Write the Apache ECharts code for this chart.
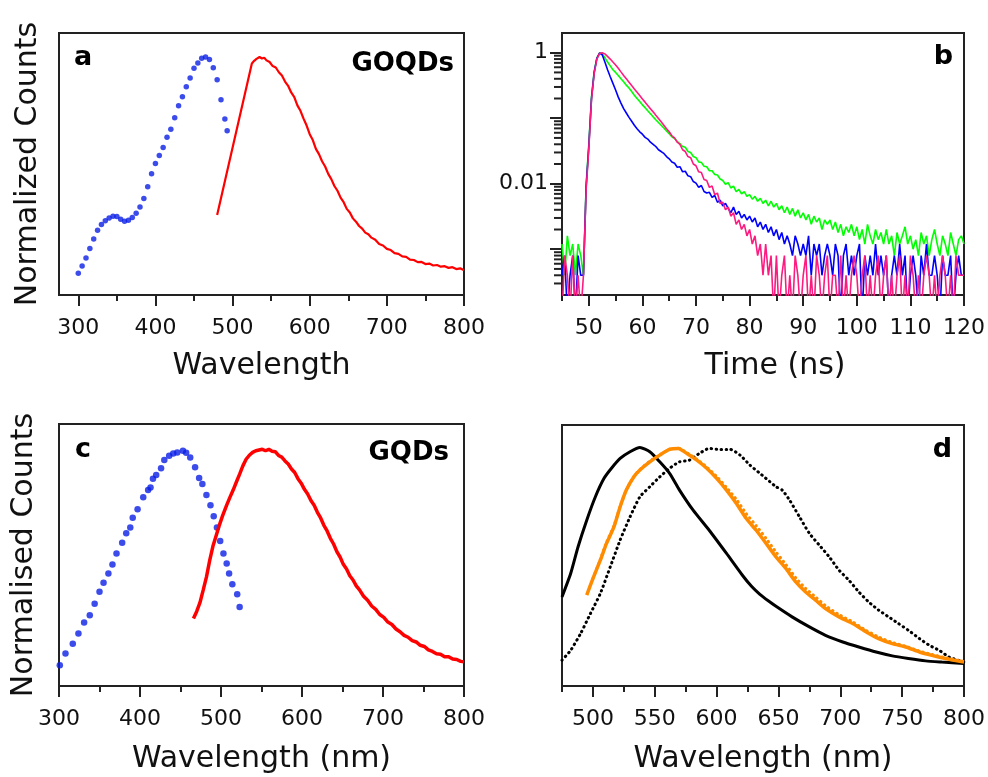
<!DOCTYPE html>
<html>
<head>
<meta charset="utf-8">
<script src="https://cdn.jsdelivr.net/npm/echarts@6/dist/echarts.min.js"></script>
<style>
    html, body { margin: 0; padding: 0; background: #fff; }
    #chart { width: 988px; height: 777px; }
</style>
</head>
<body>
<div id="chart"></div>
<script>
    // panel a: GOQDs excitation (dots) and emission (line)
    const aExcNm = [300, 305, 310, 315, 320, 325, 330, 335, 340, 345, 350, 355, 360, 365, 370, 375, 380, 385, 390, 395,
        400, 405, 410, 415, 420, 425, 430, 435, 440, 445, 450, 455, 460, 465, 470, 475, 480, 485, 490, 493]
    const aExcVal = [0.091, 0.122, 0.156, 0.195, 0.235, 0.272, 0.296, 0.312, 0.324, 0.331, 0.330, 0.318, 0.310, 0.314, 0.326, 0.344, 0.370, 0.405, 0.455, 0.510,
        0.553, 0.586, 0.620, 0.663, 0.697, 0.745, 0.795, 0.833, 0.875, 0.912, 0.953, 0.975, 0.995, 1.0, 0.99, 0.955, 0.905, 0.82, 0.74, 0.69]
    const aEmNm = [480, 525, 528, 531, 535, 538, 541, 544, 548, 552, 556, 560, 564, 568, 572, 576, 580, 584, 588, 592,
        596, 600, 604, 608, 612, 616, 620, 624, 628, 632, 636, 640, 644, 648, 652, 656, 660, 664, 668, 672,
        676, 680, 685, 690, 695, 700, 705, 710, 715, 720, 725, 730, 735, 740, 745, 750, 755, 760, 765, 770,
        775, 780, 785, 790, 795, 800]
    const aEmVal = [0.336, 0.973, 0.984, 0.992, 1.0, 0.994, 0.997, 0.986, 0.979, 0.962, 0.956, 0.936, 0.922, 0.897, 0.879, 0.851, 0.832, 0.797, 0.774, 0.741,
        0.712, 0.676, 0.651, 0.614, 0.592, 0.562, 0.540, 0.509, 0.487, 0.458, 0.438, 0.409, 0.390, 0.362, 0.347, 0.322, 0.308, 0.290, 0.279, 0.262,
        0.255, 0.241, 0.232, 0.214, 0.208, 0.194, 0.189, 0.176, 0.173, 0.162, 0.160, 0.149, 0.147, 0.138, 0.139, 0.130, 0.132, 0.124, 0.126, 0.119,
        0.121, 0.114, 0.117, 0.109, 0.112, 0.104]

    // panel b: decay curves (normalized counts, 0.0001 = zero counts, below the axis)
    const timeNs = [45, 45.5, 46, 46.5, 47, 47.5, 48, 48.5, 49, 49.5,
        50, 50.5, 51, 51.5, 52, 52.5, 53, 53.5, 54, 54.5,
        55, 55.5, 56, 56.5, 57, 57.5, 58, 58.5, 59, 59.5,
        60, 60.5, 61, 61.5, 62, 62.5, 63, 63.5, 64, 64.5,
        65, 65.5, 66, 66.5, 67, 67.5, 68, 68.5, 69, 69.5,
        70, 70.5, 71, 71.5, 72, 72.5, 73, 73.5, 74, 74.5,
        75, 75.5, 76, 76.5, 77, 77.5, 78, 78.5, 79, 79.5,
        80, 80.5, 81, 81.5, 82, 82.5, 83, 83.5, 84, 84.5,
        85, 85.5, 86, 86.5, 87, 87.5, 88, 88.5, 89, 89.5,
        90, 90.5, 91, 91.5, 92, 92.5, 93, 93.5, 94, 94.5,
        95, 95.5, 96, 96.5, 97, 97.5, 98, 98.5, 99, 99.5,
        100, 100.5, 101, 101.5, 102, 102.5, 103, 103.5, 104, 104.5,
        105, 105.5, 106, 106.5, 107, 107.5, 108, 108.5, 109, 109.5,
        110, 110.5, 111, 111.5, 112, 112.5, 113, 113.5, 114, 114.5,
        115, 115.5, 116, 116.5, 117, 117.5, 118, 118.5, 119, 119.5,
        120]
    const blueDecay = [0.0004, 0.0008, 0.0001, 0.0004, 0.0008, 0.0001, 0.0008, 0.0004, 0.0004, 0.009,
        0.037, 0.2, 0.5, 0.82, 0.99, 0.93, 0.72, 0.55, 0.43, 0.34,
        0.27, 0.21, 0.17, 0.14, 0.12, 0.103, 0.09, 0.078, 0.069, 0.062,
        0.057, 0.051, 0.048, 0.043, 0.04, 0.037, 0.033, 0.031, 0.029, 0.026,
        0.024, 0.0215, 0.0205, 0.0178, 0.0182, 0.0152, 0.0155, 0.0132, 0.0128, 0.0108,
        0.0102, 0.0088, 0.0094, 0.0076, 0.0072, 0.0074, 0.0062, 0.0066, 0.0052, 0.0056,
        0.0046, 0.005, 0.0042, 0.0036, 0.0044, 0.0034, 0.0038, 0.003, 0.0034, 0.0028,
        0.0032, 0.0026, 0.003, 0.0022, 0.0026, 0.002, 0.0024, 0.0018, 0.0022, 0.0016,
        0.002, 0.0014, 0.0018, 0.0012, 0.0016, 0.0012, 0.0008, 0.0016, 0.0012, 0.0008,
        0.0012, 0.0008, 0.0016, 0.0004, 0.0012, 0.0008, 0.0012, 0.0004, 0.0008, 0.0012,
        0.0008, 0.0004, 0.0012, 0.0008, 0.0001, 0.0008, 0.0012, 0.0004, 0.0008, 0.0004,
        0.0008, 0.0012, 0.0001, 0.0008, 0.0004, 0.0008, 0.0004, 0.0012, 0.0004, 0.0008,
        0.0004, 0.0008, 0.0001, 0.0004, 0.0008, 0.0004, 0.0012, 0.0004, 0.0008, 0.0001,
        0.0004, 0.0008, 0.0004, 0.0001, 0.0008, 0.0004, 0.0012, 0.0004, 0.0004, 0.0008,
        0.0004, 0.0001, 0.0008, 0.0004, 0.0004, 0.0008, 0.0001, 0.0004, 0.0008, 0.0004,
        0.0004]
    const greenDecay = [0.0012, 0.0004, 0.0016, 0.0008, 0.0012, 0.0004, 0.0012, 0.0008, 0.0004, 0.0095,
        0.04, 0.21, 0.51, 0.83, 0.99, 0.97, 0.84, 0.72, 0.63, 0.55,
        0.5, 0.45, 0.4, 0.36, 0.32, 0.29, 0.255, 0.225, 0.2, 0.18,
        0.16, 0.145, 0.13, 0.117, 0.105, 0.095, 0.086, 0.078, 0.071, 0.064,
        0.058, 0.052, 0.049, 0.044, 0.041, 0.037, 0.036, 0.031, 0.03, 0.026,
        0.025, 0.0215, 0.0212, 0.0185, 0.0182, 0.0158, 0.0158, 0.0138, 0.0136, 0.0118,
        0.0112, 0.0098, 0.0104, 0.0086, 0.0092, 0.0076, 0.0082, 0.007, 0.0076, 0.0064,
        0.0068, 0.0058, 0.0064, 0.0054, 0.006, 0.005, 0.0056, 0.0046, 0.0054, 0.0044,
        0.005, 0.004, 0.0046, 0.0036, 0.0044, 0.0034, 0.0042, 0.0032, 0.004, 0.003,
        0.0036, 0.0028, 0.0034, 0.0024, 0.0032, 0.0026, 0.003, 0.002, 0.0028, 0.0024,
        0.0028, 0.002, 0.0026, 0.0018, 0.0024, 0.0016, 0.0022, 0.0018, 0.0024, 0.0016,
        0.0022, 0.0014, 0.002, 0.0012, 0.0024, 0.0016, 0.0012, 0.002, 0.0014, 0.0018,
        0.0012, 0.002, 0.0012, 0.0016, 0.0008, 0.0018, 0.0012, 0.0016, 0.0022, 0.0012,
        0.0016, 0.001, 0.0014, 0.0008, 0.0018, 0.0012, 0.0016, 0.0008, 0.0014, 0.002,
        0.0012, 0.0008, 0.0016, 0.0012, 0.0008, 0.0018, 0.0012, 0.0008, 0.0014, 0.0016,
        0.0012]
    const pinkDecay = [0.0001, 0.0008, 0.0004, 0.0001, 0.0008, 0.0001, 0.0004, 0.0001, 0.0004, 0.008,
        0.034, 0.19, 0.48, 0.8, 0.97, 1.0, 0.96, 0.88, 0.8, 0.72,
        0.65, 0.58, 0.51, 0.45, 0.4, 0.355, 0.315, 0.28, 0.25, 0.222,
        0.197, 0.176, 0.157, 0.14, 0.125, 0.111, 0.099, 0.088, 0.078, 0.069,
        0.062, 0.054, 0.05, 0.043, 0.04, 0.033, 0.031, 0.026, 0.025, 0.02,
        0.0188, 0.0152, 0.0148, 0.0116, 0.0112, 0.0088, 0.0092, 0.0068, 0.0072, 0.005,
        0.0052, 0.004, 0.0044, 0.0032, 0.0036, 0.0024, 0.0028, 0.002, 0.0024, 0.0016,
        0.002, 0.0012, 0.0016, 0.0008, 0.0012, 0.0004, 0.0012, 0.0004, 0.0008, 0.0001,
        0.0008, 0.0001, 0.0004, 0.0008, 0.0001, 0.0004, 0.0001, 0.0008, 0.0004, 0.0001,
        0.0004, 0.0008, 0.0001, 0.0004, 0.0001, 0.0008, 0.0004, 0.0001, 0.0004, 0.0008,
        0.0001, 0.0004, 0.0004, 0.0001, 0.0008, 0.0001, 0.0004, 0.0001, 0.0004, 0.0008,
        0.0004, 0.0001, 0.0004, 0.0008, 0.0001, 0.0004, 0.0001, 0.0004, 0.0008, 0.0001,
        0.0004, 0.0008, 0.0001, 0.0004, 0.0001, 0.0004, 0.0008, 0.0001, 0.0004, 0.0001,
        0.0008, 0.0004, 0.0001, 0.0004, 0.0001, 0.0004, 0.0008, 0.0004, 0.0001, 0.0004,
        0.0001, 0.0004, 0.0008, 0.0004, 0.0001, 0.0004, 0.0001, 0.0008, 0.0004, 0.0004,
        0.0004]

    // panel c: GQDs excitation (dots) and emission (line)
    const cExcNm = [301, 308, 317, 324, 331, 338, 344, 350, 355, 361, 366, 371, 378, 383, 388, 391, 397, 404, 410, 413,
        416, 420, 426, 430, 436, 441, 446, 453, 457, 462, 468, 473, 477, 482, 487, 491, 495, 499, 503, 507,
        510, 514, 520, 523]
    const cExcVal = [0.088, 0.137, 0.179, 0.222, 0.268, 0.299, 0.347, 0.398, 0.436, 0.475, 0.513, 0.560, 0.605, 0.645, 0.670, 0.711, 0.747, 0.798, 0.828, 0.839,
        0.876, 0.891, 0.920, 0.955, 0.973, 0.982, 0.987, 0.994, 0.985, 0.965, 0.924, 0.879, 0.853, 0.807, 0.764, 0.717, 0.670, 0.613, 0.560, 0.518,
        0.475, 0.430, 0.388, 0.334]
    const cEmNm = [466, 470, 474, 478, 482, 486, 490, 494, 498, 502, 507, 511, 515, 519, 523, 527, 531, 535, 539, 543,
        547, 551, 555, 559, 563, 567, 571, 575, 579, 583, 587, 591, 595, 599, 603, 607, 611, 615, 619, 623,
        627, 631, 635, 639, 643, 647, 651, 655, 659, 663, 667, 671, 676, 681, 686, 691, 696, 701, 706, 711,
        716, 721, 726, 731, 736, 741, 746, 751, 756, 761, 766, 771, 776, 781, 786, 791, 796, 800]
    const cEmVal = [0.285, 0.315, 0.352, 0.405, 0.46, 0.53, 0.59, 0.635, 0.68, 0.72, 0.764, 0.797, 0.828, 0.862, 0.895, 0.93, 0.958, 0.975, 0.987, 0.994,
        0.997, 1.0, 0.994, 1.0, 0.992, 0.99, 0.974, 0.967, 0.951, 0.938, 0.917, 0.902, 0.876, 0.857, 0.831, 0.811, 0.784, 0.764, 0.734, 0.71,
        0.679, 0.655, 0.624, 0.6, 0.568, 0.545, 0.514, 0.494, 0.466, 0.448, 0.423, 0.406, 0.379, 0.362, 0.338, 0.324, 0.302, 0.29, 0.27, 0.26,
        0.241, 0.229, 0.214, 0.206, 0.192, 0.186, 0.172, 0.167, 0.153, 0.146, 0.136, 0.134, 0.124, 0.124, 0.114, 0.112, 0.104, 0.102]

    // panel d: four emission spectra
    const dBlackNm = [475, 482, 488, 495, 502, 509, 515, 522, 530, 538, 546, 554, 562, 570, 581, 594, 608, 621, 628, 635,
        642, 648, 661, 675, 688, 702, 715, 729, 742, 755, 769, 782, 800]
    const dBlackVal = [0.372, 0.470, 0.582, 0.693, 0.791, 0.868, 0.910, 0.951, 0.979, 0.997, 0.979, 0.937, 0.889, 0.819, 0.735, 0.651, 0.554, 0.462, 0.418, 0.383,
        0.355, 0.333, 0.289, 0.247, 0.212, 0.184, 0.163, 0.142, 0.126, 0.115, 0.105, 0.100, 0.094]
    const dBlackDotNm = [475, 482, 490, 498, 506, 514, 522, 530, 538, 546, 554, 562, 570, 578, 586, 594, 602, 611, 619, 627,
        635, 643, 648, 653, 659, 667, 675, 683, 691, 699, 707, 715, 723, 731, 739, 747, 755, 764, 772, 780,
        788, 800]
    const dBlackDotVal = [0.108, 0.149, 0.219, 0.303, 0.387, 0.498, 0.610, 0.707, 0.791, 0.833, 0.874, 0.910, 0.937, 0.944, 0.972, 0.993, 0.989, 0.989, 0.965, 0.923,
        0.889, 0.854, 0.833, 0.819, 0.777, 0.707, 0.638, 0.589, 0.540, 0.484, 0.442, 0.393, 0.351, 0.317, 0.289, 0.261, 0.233, 0.198, 0.170, 0.149,
        0.121, 0.100]
    const dOrangeNm = [495, 500, 506, 511, 517, 522, 527, 533, 538, 546, 554, 562, 569, 576, 584, 592, 600, 608, 616, 624,
        632, 640, 648, 656, 664, 672, 680, 688, 699, 710, 721, 731, 742, 753, 764, 774, 785, 800]
    const dOrangeVal = [0.380, 0.449, 0.526, 0.596, 0.665, 0.749, 0.819, 0.874, 0.903, 0.937, 0.965, 0.989, 0.993, 0.972, 0.944, 0.910, 0.868, 0.819, 0.763, 0.700,
        0.651, 0.596, 0.540, 0.491, 0.435, 0.393, 0.359, 0.324, 0.289, 0.261, 0.226, 0.198, 0.177, 0.163, 0.142, 0.128, 0.115, 0.100]
    const dOrangeDotNm = [500, 506, 511, 517, 522, 527, 533, 538, 546, 554, 562, 569, 576, 584, 592, 600, 608, 616, 624, 632,
        640, 648, 656, 664, 672, 680, 688, 699, 710, 721, 731, 742, 753, 764, 774, 785, 800]
    const dOrangeDotVal = [0.45, 0.53, 0.60, 0.67, 0.75, 0.82, 0.875, 0.905, 0.94, 0.966, 0.99, 0.994, 0.975, 0.948, 0.915, 0.876, 0.83, 0.78, 0.72, 0.67,
        0.617, 0.56, 0.508, 0.452, 0.408, 0.372, 0.336, 0.298, 0.268, 0.232, 0.205, 0.182, 0.166, 0.146, 0.132, 0.118, 0.102]

    // tick positions
    const aMajor = [300, 400, 500, 600, 700, 800]
    const aMinor = [350, 450, 550, 650, 750]
    const bMajor = [50, 60, 70, 80, 90, 100, 110, 120]
    const bMinor = [45, 55, 65, 75, 85, 95, 105, 115]
    const bLogMajor = [0.001, 0.01, 0.1, 1]
    const bLogLabels = [0.01, 1]
    const bLogMinor = [0.0003, 0.0004, 0.0005, 0.0006, 0.0007, 0.0008, 0.0009,
        0.002, 0.003, 0.004, 0.005, 0.006, 0.007, 0.008, 0.009,
        0.02, 0.03, 0.04, 0.05, 0.06, 0.07, 0.08, 0.09,
        0.2, 0.3, 0.4, 0.5, 0.6, 0.7, 0.8, 0.9]
    const bLogMin = 0.0002
    const bLogMax = 2
    const cMajor = [300, 400, 500, 600, 700, 800]
    const cMinor = [350, 450, 550, 650, 750]
    const dMajor = [500, 550, 600, 650, 700, 750, 800]
    const dMinor = [475, 525, 575, 625, 675, 725, 775]

    const font = 'DejaVu Sans'
    const ink = '#111'
    const frame = '#222'

    const pairs = (xs, ys) => xs.map((x, i) => [x, ys[i]])

    function xAxes (grid, min, max, major, minor, name, nameGap, namePad) {
        return [{
            type: 'value', gridIndex: grid, min: min, max: max, position: 'bottom',
            axisLine: { show: false, onZero: false },
            splitLine: { show: false },
            axisTick: { length: 11, customValues: major, lineStyle: { color: frame, width: 2 } },
            axisLabel: {
                customValues: major, margin: 22, color: ink, fontSize: 22, fontFamily: font,
                formatter: v => String(v)
            },
            name: name, nameLocation: 'middle', nameGap: nameGap,
            nameTextStyle: { color: ink, fontSize: 30, fontFamily: font, padding: namePad || 0 }
        }, {
            type: 'value', gridIndex: grid, min: min, max: max, position: 'bottom',
            axisLine: { show: false, onZero: false },
            splitLine: { show: false },
            axisLabel: { show: false },
            axisTick: { length: 6, customValues: minor, lineStyle: { color: frame, width: 2 } }
        }]
    }

    function plainY (grid, max, name, nameGap) {
        return {
            type: 'value', gridIndex: grid, min: 0, max: max,
            axisLine: { show: false, onZero: false },
            axisTick: { show: false },
            axisLabel: { show: false },
            splitLine: { show: false },
            name: name, nameLocation: 'middle', nameGap: nameGap,
            nameTextStyle: { color: ink, fontSize: 30, fontFamily: font }
        }
    }

    const gridBox = { show: true, borderColor: frame, borderWidth: 2, backgroundColor: '#fff' }

    function letter (text, x, y, align, size) {
        return {
            type: 'text', x: x, y: y, z: 100,
            style: {
                text: text, fill: '#000', font: 'bold ' + size + 'px "DejaVu Sans"',
                textAlign: align, textVerticalAlign: 'middle', align: align, verticalAlign: 'middle'
            }
        }
    }

    const chart = echarts.init(document.getElementById('chart'))
    const option = {
        animation: false,
        backgroundColor: '#fff',
        grid: [
            Object.assign({ left: 59, top: 33, width: 405, height: 262 }, gridBox),
            Object.assign({ left: 562, top: 33, width: 405, height: 262 }, gridBox),
            Object.assign({ left: 59, top: 424, width: 405, height: 262 }, gridBox),
            Object.assign({ left: 562, top: 425, width: 405, height: 261 }, gridBox)
        ],
        xAxis: [].concat(
            xAxes(0, 275, 800, aMajor, aMinor, 'Wavelength', 56),
            xAxes(1, 45, 120, bMajor, bMinor, 'Time (ns)', 56, [0, 0, 0, 24]),
            xAxes(2, 300, 800, cMajor, cMinor, 'Wavelength (nm)', 58),
            xAxes(3, 475, 800, dMajor, dMinor, 'Wavelength (nm)', 58)
        ),
        yAxis: [
            plainY(0, 1.101, 'Normalized Counts', 16),
            {
                type: 'log', logBase: 10, gridIndex: 1, min: bLogMin, max: bLogMax, position: 'left',
                axisLine: { show: false, onZero: false },
                splitLine: { show: false },
                axisTick: { show: true, length: 12, customValues: bLogMajor, lineStyle: { color: frame, width: 2 } },
                axisLabel: {
                    customValues: bLogLabels, margin: 14, color: ink, fontSize: 22, fontFamily: font,
                    formatter: v => (v >= 1 ? '1' : '0.01')
                }
            },
            plainY(2, 1.107, 'Normalised Counts', 20),
            plainY(3, 1.091, '', 10)
        ],
        series: [
            {
                type: 'scatter', xAxisIndex: 0, yAxisIndex: 0, data: pairs(aExcNm, aExcVal),
                symbolSize: 5.5, itemStyle: { color: '#0a1fe6' }
            },
            {
                type: 'line', xAxisIndex: 0, yAxisIndex: 0, data: pairs(aEmNm, aEmVal),
                showSymbol: false, lineStyle: { color: '#ff0000', width: 2.2 }
            },
            {
                type: 'line', xAxisIndex: 2, yAxisIndex: 1, data: pairs(timeNs, greenDecay),
                showSymbol: false, lineStyle: { color: '#00ff00', width: 1.6 }
            },
            {
                type: 'line', xAxisIndex: 2, yAxisIndex: 1, data: pairs(timeNs, blueDecay),
                showSymbol: false, lineStyle: { color: '#0000ff', width: 1.6 }
            },
            {
                type: 'line', xAxisIndex: 2, yAxisIndex: 1, data: pairs(timeNs, pinkDecay),
                showSymbol: false, lineStyle: { color: '#ff1a80', width: 1.6 }
            },
            {
                // minor log ticks of panel b, placed through the log axis
                type: 'custom', xAxisIndex: 2, yAxisIndex: 1, silent: true, clip: false, z: 5,
                data: bLogMinor.map(v => [45, v]),
                renderItem: (params, api) => {
                    const p = api.coord([api.value(0), api.value(1)])
                    return {
                        type: 'line',
                        shape: { x1: p[0] - 8, y1: p[1], x2: p[0], y2: p[1] },
                        style: { stroke: frame, lineWidth: 2 }
                    }
                }
            },
            {
                type: 'scatter', xAxisIndex: 4, yAxisIndex: 2, data: pairs(cExcNm, cExcVal),
                symbolSize: 6.5, itemStyle: { color: '#0a1fe6' }
            },
            {
                type: 'line', xAxisIndex: 4, yAxisIndex: 2, data: pairs(cEmNm, cEmVal),
                showSymbol: false, lineStyle: { color: '#ff0000', width: 3.5 }
            },
            {
                type: 'line', xAxisIndex: 6, yAxisIndex: 3, data: pairs(dBlackNm, dBlackVal),
                showSymbol: false, smooth: 0.2, lineStyle: { color: '#000', width: 3 }
            },
            {
                type: 'line', xAxisIndex: 6, yAxisIndex: 3, data: pairs(dBlackDotNm, dBlackDotVal),
                showSymbol: false, smooth: 0.2,
                lineStyle: { color: '#000', width: 3, type: [0.5, 4.5], cap: 'round' }
            },
            {
                type: 'line', xAxisIndex: 6, yAxisIndex: 3, data: pairs(dOrangeDotNm, dOrangeDotVal),
                showSymbol: false, smooth: 0.2,
                lineStyle: { color: '#ff8c00', width: 3, type: [0.5, 4.5], cap: 'round' }
            },
            {
                type: 'line', xAxisIndex: 6, yAxisIndex: 3, data: pairs(dOrangeNm, dOrangeVal),
                showSymbol: false, smooth: 0.2, lineStyle: { color: '#ff8c00', width: 3.5 }
            }
        ],
        graphic: [
            letter('a', 74, 58, 'left', 27),
            letter('GOQDs', 454, 64, 'right', 26),
            letter('b', 953, 57, 'right', 27),
            letter('c', 75, 450, 'left', 27),
            letter('GQDs', 449, 453, 'right', 26),
            letter('d', 952, 450, 'right', 27)
        ]
    }
    chart.setOption(option)
</script>
</body>
</html>
